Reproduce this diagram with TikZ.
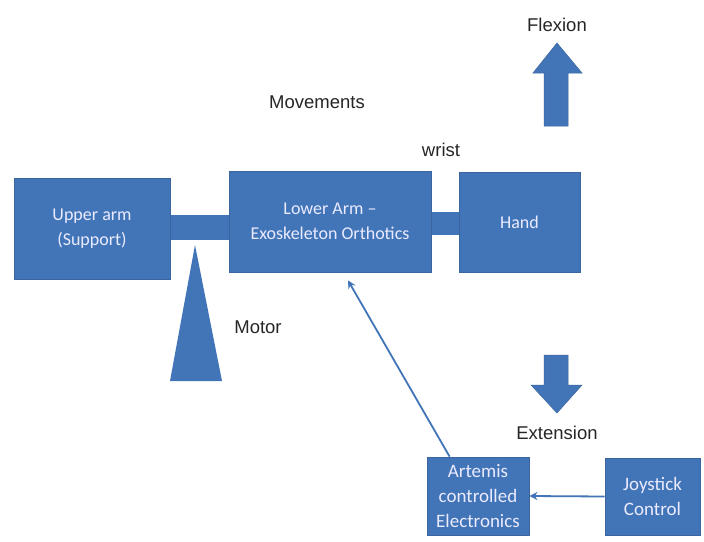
\documentclass[tikz,border=0pt]{standalone}
\usepackage{fontspec}
\setmainfont{Liberation Sans}
\newfontfamily\boxfont{Carlito}
\usetikzlibrary{arrows.meta}
\definecolor{bblue}{HTML}{4275B8}
\definecolor{bedge}{HTML}{3A659E}
\tikzset{
  blk/.style={fill=bblue, draw=bedge, line width=0.8pt, text=white!92!blue, align=center, font=\boxfont\fontsize{18}{25}\selectfont, inner sep=1pt},
  bar/.style={fill=bblue, draw=none, inner sep=0pt},
  lbl/.style={font=\fontsize{18.5}{20}\selectfont, text=black!85},
  conn/.style={draw=bblue, line width=1.8pt, -{Stealth[length=8pt,width=8pt]}},
  bigarrow/.style={fill=bblue, draw=bedge, line width=0.5pt}
}
\begin{document}
\begin{tikzpicture}[x=1pt,y=-1pt]
\useasboundingbox (0,0) rectangle (704,541);
\fill[white] (0,0) rectangle (704,541);
% bars
\node[bar, minimum width=60pt, minimum height=25pt] (bar1) at (199.5,227.5) {};
\node[bar, minimum width=30pt, minimum height=23pt] (bar2) at (445,223.5) {};
% main boxes
\node[blk, minimum width=156pt, minimum height=101pt] (upper) at (92,228.5) {Upper arm\\(Support)};
\node[blk, minimum width=202pt, minimum height=101pt] (lower) at (330,221.5) {Lower Arm –\\Exoskeleton Orthotics};
\node[blk, minimum width=121pt, minimum height=100pt] (hand) at (519.5,222) {Hand};
% motor triangle
\coordinate (apex) at (195,245);
\fill[bblue] (apex) -- (222,381) -- (170,381) -- cycle;
\node[lbl] (motor) at (258,327) {Motor};
% labels
\node[lbl] (movements) at (317,102) {Movements};
\node[lbl] (wrist) at (441,150) {wrist};
\node[lbl] (flexion) at (557,25) {Flexion};
\node[lbl] (extension) at (557,433) {Extension};
% up arrow
\filldraw[bigarrow] (557,43) -- (582,73) -- (568,73) -- (568,126) -- (544,126) -- (544,73) -- (533,73) -- cycle;
% down arrow
\filldraw[bigarrow] (557,413) -- (582,385) -- (568,385) -- (568,355) -- (544,355) -- (544,385) -- (531,385) -- cycle;
% control boxes
\node[blk, minimum width=102pt, minimum height=78pt, font=\boxfont\fontsize{19}{25}\selectfont] (artemis) at (478,496) {Artemis\\controlled\\Electronics};
\node[blk, minimum width=95pt, minimum height=77pt, font=\boxfont\fontsize{19}{25}\selectfont, text depth=0pt] (joystick) at (652.5,496.5) {Joystick\\Control};
% connectors
\draw[conn] (joystick.west) -- (artemis.east);
\draw[conn] ([xshift=23pt]artemis.north west) -- ([xshift=18pt,yshift=-8pt]lower.south);
\end{tikzpicture}
\end{document}
